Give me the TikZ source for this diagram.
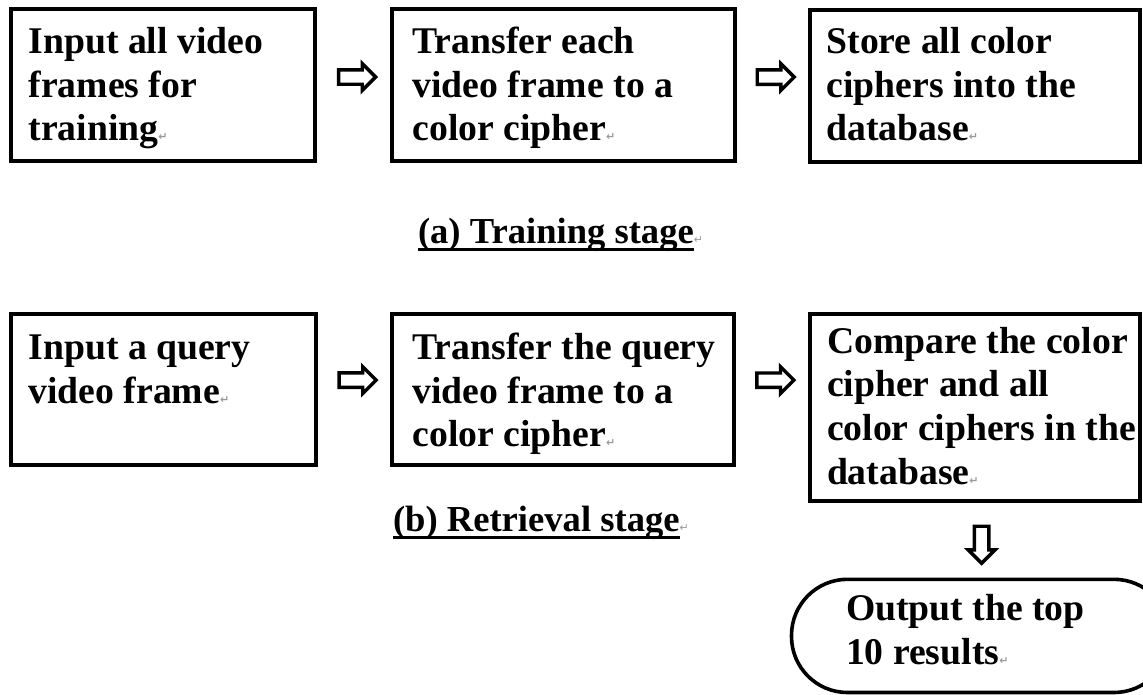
\documentclass[tikz,border=0pt]{standalone}
\usepackage{fontspec}
\setmainfont{Liberation Serif}
\newfontfamily\symfont{DejaVu Sans}
\usetikzlibrary{shapes.arrows,calc}
\newcommand{\rmk}{{\fontsize{11}{11}\selectfont\color{black!40}\symfont ↵}}
\newcommand{\bigbf}{\fontsize{37.7}{43.7}\selectfont\bfseries}
\newcommand{\capbf}{\fontsize{36.6}{43.7}\selectfont\bfseries}
\newcommand{\lines}[1]{\parbox[t]{330pt}{\bigbf #1}}
\begin{document}
\begin{tikzpicture}[x=1pt,y=-1pt,
  box/.style={draw, line width=4pt, rectangle, inner sep=0pt, outer sep=0pt},
  txt/.style={anchor=base west, inner sep=0pt, outer sep=0pt},
  captxt/.style={anchor=base west, inner sep=0pt, outer sep=0pt, font=\capbf},
  uline/.style={line width=2.7pt},
  fat/.style={shape=single arrow, draw, line width=3.4pt, fill=white, inner sep=5.5pt,
    minimum height=37pt, single arrow head extend=6.2pt, single arrow head indent=0pt},
]
\useasboundingbox (0,0) rectangle (1143,694);
\clip (0,0) rectangle (1143,694);

% boxes
\node[box, minimum width=304pt, minimum height=152pt] (b1) at (163.3,85.3) {};
\node[box, minimum width=342.8pt, minimum height=152pt] (b2) at (563.1,85.3) {};
\node[box, minimum width=329.8pt, minimum height=152pt] (b3) at (974.6,85.5) {};
\node[box, minimum width=304.4pt, minimum height=150.8pt] (b4) at (163.5,389.1) {};
\node[box, minimum width=341.5pt, minimum height=150.7pt] (b5) at (563.05,389.15) {};
\node[box, minimum width=329.8pt, minimum height=187pt] (b6) at (974.6,407.3) {};
\node[draw, line width=3.6pt, rounded corners=56pt, inner sep=0pt,
      minimum width=378.5pt, minimum height=113.2pt] (out) at (980.75,635.9) {};

% texts
\node[txt] (t1) at (28.5,53.3) {\lines{Input all video\\frames for\\training\rmk}};
\node[txt] (t2) at (412.5,53.3) {\lines{Transfer each\\video frame to a\\color cipher\rmk}};
\node[txt] (t3) at (826.5,53.3) {\lines{Store all color\\ciphers into the\\database\rmk}};
\node[txt] (t4) at (28.5,359.3) {\lines{Input a query\\video frame\rmk}};
\node[txt] (t5) at (412.5,359.3) {\lines{Transfer the query\\video frame to a\\color cipher\rmk}};
\node[txt] (t6) at (827,353) {\lines{Compare the color\\cipher and all\\color ciphers in the\\database\rmk}};
\node[txt] (t7) at (846,620.7) {\lines{Output the top\\10 results\rmk}};

% captions
\node[captxt] (capa) at (418,243) {(a) Training stage};
\node[txt] (capam) at (capa.base east) {\rmk};
\draw[uline] ([yshift=-6.5pt]capa.base west) -- ([yshift=-6.5pt]capa.base east);
\node[captxt] (capb) at (393,531) {(b) Retrieval stage};
\node[txt] (capbm) at (capb.base east) {\rmk};
\draw[uline] ([yshift=-6.5pt]capb.base west) -- ([yshift=-6.5pt]capb.base east);

% arrows
\node[fat] (a1) at ($(b1.east)!.5!(b2.west)+(0,-8.3)$) {};
\node[fat] (a2) at ($(b2.east)!.5!(b3.west)+(0,-8.3)$) {};
\node[fat] (a3) at ($(b4.east)!.5!(b5.west)+(0,-9)$) {};
\node[fat] (a4) at ($(b5.east)!.5!(b6.west |- b5.east)+(0,-9)$) {};
\node[fat, rotate=-90] (a5) at ($(b6.south)!.5!(b6.south |- out.north)+(7,2)$) {};
\end{tikzpicture}
\end{document}
